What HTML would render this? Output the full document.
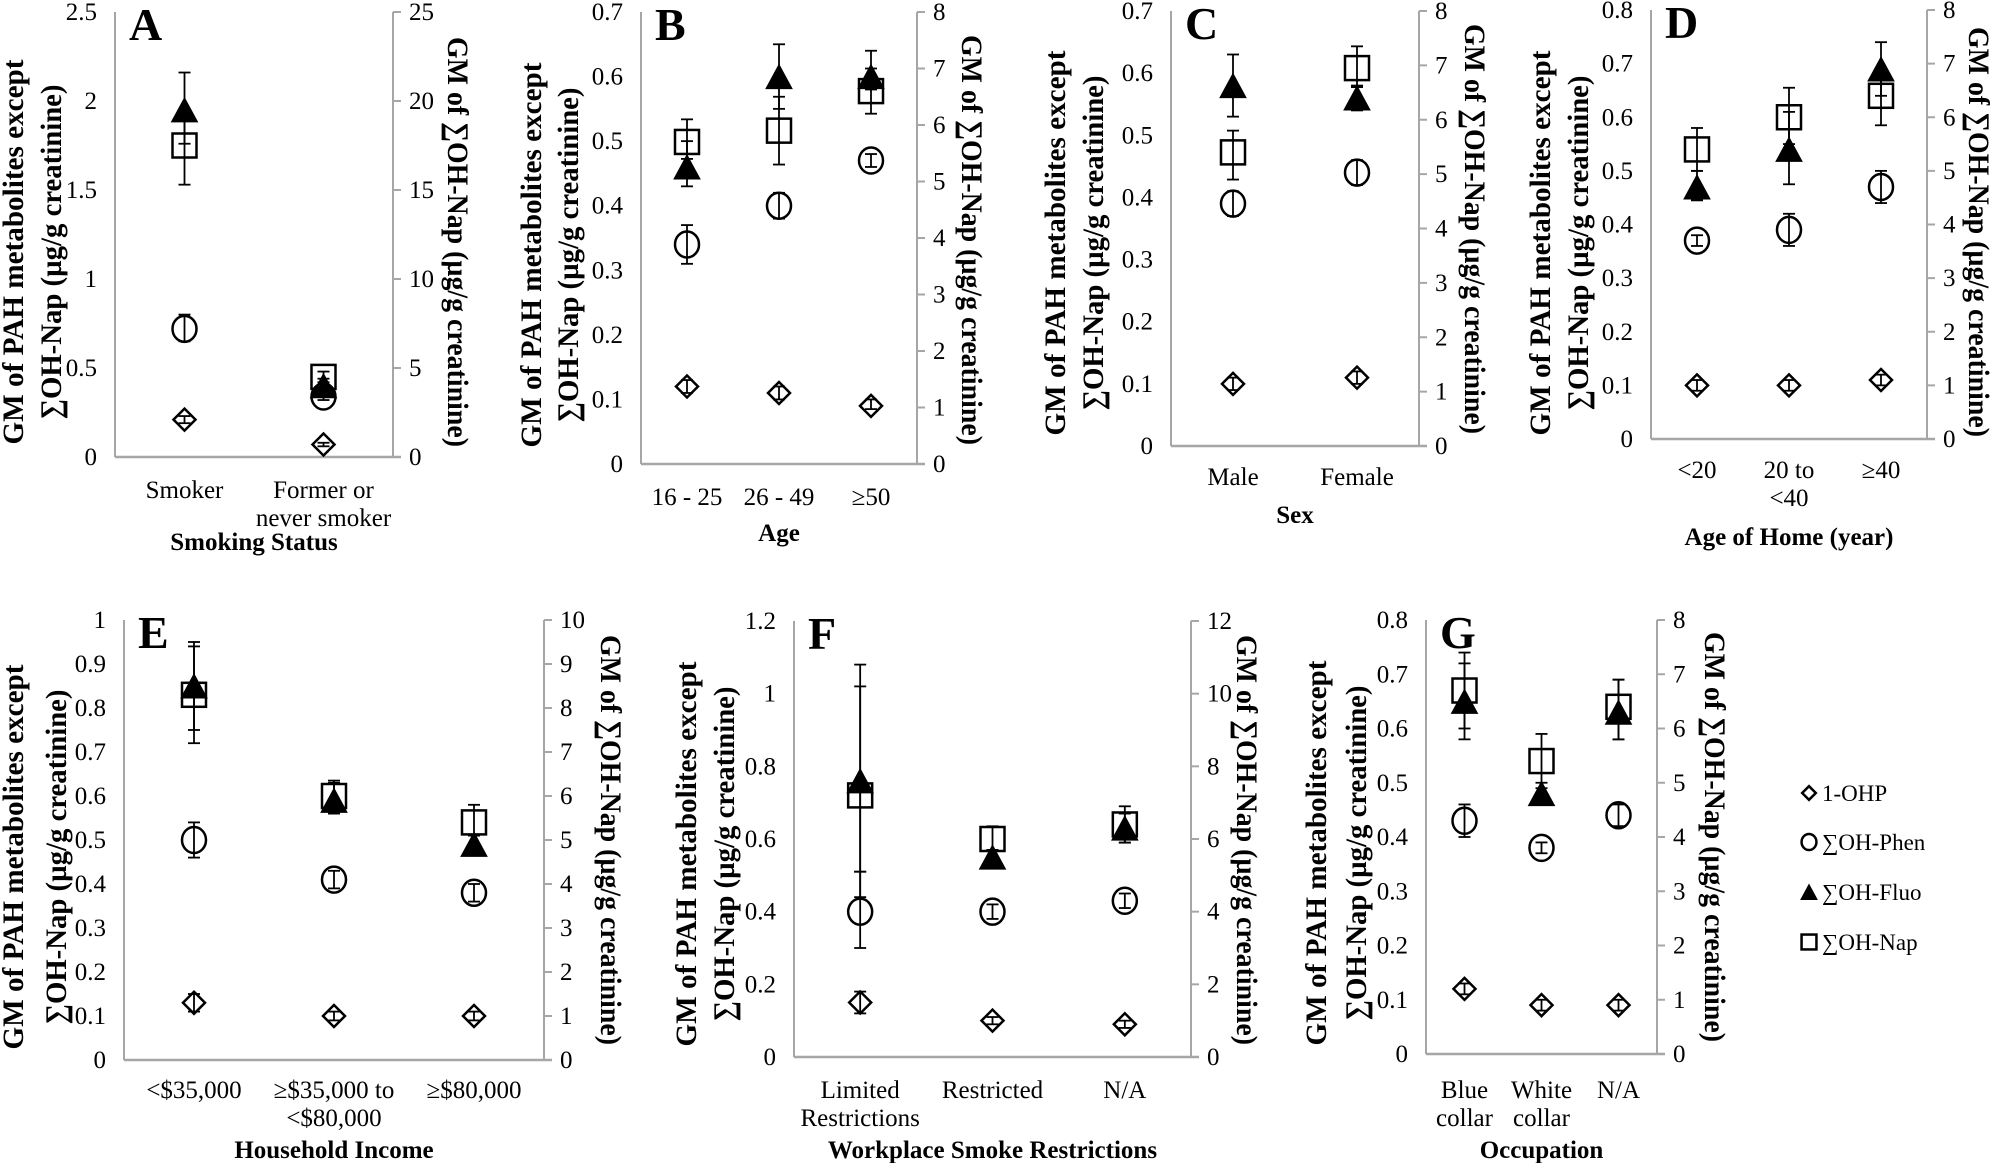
<!DOCTYPE html>
<html><head><meta charset="utf-8">
<style>
html,body{margin:0;padding:0;background:#fff;}
svg{display:block;}
text{font-family:"Liberation Serif","DejaVu Serif",serif;fill:#000;}
.tick{font-size:25px;}
.cat{font-size:25px;}
.xt{font-size:25px;font-weight:bold;}
.yt{font-size:30px;font-weight:bold;}
.let{font-size:46px;font-weight:bold;}
.leg{font-size:23px;}
</style></head>
<body>
<svg id="fig" width="1991" height="1163" viewBox="0 0 1991 1163" xmlns="http://www.w3.org/2000/svg"></svg>
<script>
// ---- Panel A: Smoking status ----
const catsA = ["Smoker", "Former or|never smoker"];
const ohpA = [0.21, 0.07];   const ohpErrA = [[0.19,0.23],[0.06,0.08]];
const phenA = [0.72, 0.34];  const phenErrA = [[0.65,0.80],[0.32,0.36]];
const fluoA = [1.95, 0.40];  const fluoErrA = [[1.76,2.16],[0.37,0.44]];
const napA = [17.5, 4.5];    const napErrA = [[15.3,19.5],[4.2,4.8]];
// ---- Panel B: Age ----
const catsB = ["16 - 25", "26 - 49", "≥50"];
const ohpB = [0.12, 0.11, 0.09];  const ohpErrB = [[0.11,0.13],[0.10,0.12],[0.085,0.10]];
const phenB = [0.34, 0.40, 0.47]; const phenErrB = [[0.31,0.37],[0.38,0.42],[0.46,0.48]];
const fluoB = [0.46, 0.60, 0.60]; const fluoErrB = [[0.43,0.50],[0.55,0.65],[0.58,0.64]];
const napB = [5.7, 5.9, 6.6];     const napErrB = [[5.4,6.1],[5.3,6.5],[6.2,7.0]];
// ---- Panel C: Sex ----
const catsC = ["Male", "Female"];
const ohpC = [0.10, 0.11];   const ohpErrC = [[0.09,0.11],[0.10,0.12]];
const phenC = [0.39, 0.44];  const phenErrC = [[0.37,0.41],[0.42,0.46]];
const fluoC = [0.58, 0.56];  const fluoErrC = [[0.53,0.63],[0.54,0.58]];
const napC = [5.4, 6.95];    const napErrC = [[4.9,5.8],[6.6,7.35]];
// ---- Panel D: Age of home ----
const catsD = ["<20", "20 to|<40", "≥40"];
const ohpD = [0.10, 0.10, 0.11];  const ohpErrD = [[0.09,0.11],[0.09,0.11],[0.10,0.12]];
const phenD = [0.37, 0.39, 0.47]; const phenErrD = [[0.36,0.38],[0.36,0.42],[0.44,0.50]];
const fluoD = [0.47, 0.54, 0.69]; const fluoErrD = [[0.445,0.50],[0.475,0.61],[0.64,0.74]];
const napD = [5.4, 6.0, 6.4];     const napErrD = [[5.0,5.8],[5.5,6.55],[5.85,6.8]];
// ---- Panel E: Household income ----
const catsE = ["<$35,000", "≥$35,000 to|<$80,000", "≥$80,000"];
const ohpE = [0.13, 0.10, 0.10];  const ohpErrE = [[0.11,0.15],[0.09,0.11],[0.09,0.11]];
const phenE = [0.50, 0.41, 0.38]; const phenErrE = [[0.46,0.54],[0.39,0.43],[0.36,0.40]];
const fluoE = [0.85, 0.59, 0.49]; const fluoErrE = [[0.75,0.95],[0.56,0.63],[0.47,0.51]];
const napE = [8.3, 6.0, 5.4];     const napErrE = [[7.2,9.4],[5.6,6.35],[5.1,5.8]];
// ---- Panel F: Workplace smoke restrictions ----
const catsF = ["Limited|Restrictions", "Restricted", "N/A"];
const ohpF = [0.15, 0.10, 0.09];  const ohpErrF = [[0.12,0.18],[0.09,0.11],[0.08,0.10]];
const phenF = [0.40, 0.40, 0.43]; const phenErrF = [[0.30,0.51],[0.38,0.42],[0.41,0.45]];
const fluoF = [0.76, 0.55, 0.63]; const fluoErrF = [[0.44,1.08],[0.53,0.57],[0.59,0.67]];
const napF = [7.2, 6.0, 6.4];     const napErrF = [[5.1,10.2],[5.7,6.35],[5.9,6.9]];
// ---- Panel G: Occupation ----
const catsG = ["Blue|collar", "White|collar", "N/A"];
const ohpG = [0.12, 0.09, 0.09];  const ohpErrG = [[0.11,0.13],[0.08,0.10],[0.08,0.10]];
const phenG = [0.43, 0.38, 0.44]; const phenErrG = [[0.40,0.46],[0.37,0.39],[0.42,0.46]];
const fluoG = [0.65, 0.48, 0.63]; const fluoErrG = [[0.58,0.72],[0.47,0.49],[0.58,0.69]];
const napG = [6.7, 5.4, 6.4];     const napErrG = [[6.0,7.4],[5.0,5.9],[5.8,6.9]];
// ---- Axis ranges ----
const leftMax = [2.5, 0.7, 0.7, 0.8, 1.0, 1.2, 0.8];
const leftStep = [0.5, 0.1, 0.1, 0.1, 0.1, 0.2, 0.1];
const rightMax = [25, 8, 8, 8, 10, 12, 8];
const rightStep = [5, 1, 1, 1, 1, 2, 1];
const xTitles = ["Smoking Status", "Age", "Sex", "Age of Home (year)", "Household Income", "Workplace Smoke Restrictions", "Occupation"];
const legendLabels = ["1-OHP", "∑OH-Phen", "∑OH-Fluo", "∑OH-Nap"];

const NS = "http://www.w3.org/2000/svg";
const svg = document.getElementById("fig");
function mk(tag, attrs, parent) {
  const e = document.createElementNS(NS, tag);
  for (const k in attrs) e.setAttribute(k, attrs[k]);
  (parent || svg).appendChild(e);
  return e;
}

const layout = [
  {L:115,R:393,T:12,Z:457,catY:490,ttlY:542,t1:13,t2:51,rt:458,tc:252,rc:242},
  {L:641,R:917,T:12,Z:464,catY:497,ttlY:533,t1:531,t2:568,rt:972,tc:255,rc:240},
  {L:1171,R:1419,T:11,Z:446,catY:477,ttlY:515,t1:1055,t2:1093,rt:1475,tc:243,rc:229},
  {L:1651,R:1927,T:10,Z:439,catY:470,ttlY:537,t1:1540,t2:1578,rt:1979,tc:243,rc:232},
  {L:124,R:544,T:620,Z:1060,catY:1090,ttlY:1150,t1:13,t2:56,rt:611,tc:857,rc:840},
  {L:794,R:1191,T:621,Z:1057,catY:1090,ttlY:1150,t1:686,t2:724,rt:1247,tc:854,rc:840},
  {L:1426,R:1657,T:620,Z:1054,catY:1090,ttlY:1150,t1:1316,t2:1356,rt:1715,tc:853,rc:837}
];
const panels = [
  {cats:catsA,ohp:ohpA,ohpE:ohpErrA,phen:phenA,phenE:phenErrA,fluo:fluoA,fluoE:fluoErrA,nap:napA,napE:napErrA},
  {cats:catsB,ohp:ohpB,ohpE:ohpErrB,phen:phenB,phenE:phenErrB,fluo:fluoB,fluoE:fluoErrB,nap:napB,napE:napErrB},
  {cats:catsC,ohp:ohpC,ohpE:ohpErrC,phen:phenC,phenE:phenErrC,fluo:fluoC,fluoE:fluoErrC,nap:napC,napE:napErrC},
  {cats:catsD,ohp:ohpD,ohpE:ohpErrD,phen:phenD,phenE:phenErrD,fluo:fluoD,fluoE:fluoErrD,nap:napD,napE:napErrD},
  {cats:catsE,ohp:ohpE,ohpE:ohpErrE,phen:phenE,phenE:phenErrE,fluo:fluoE,fluoE:fluoErrE,nap:napE,napE:napErrE},
  {cats:catsF,ohp:ohpF,ohpE:ohpErrF,phen:phenF,phenE:phenErrF,fluo:fluoF,fluoE:fluoErrF,nap:napF,napE:napErrF},
  {cats:catsG,ohp:ohpG,ohpE:ohpErrG,phen:phenG,phenE:phenErrG,fluo:fluoG,fluoE:fluoErrG,nap:napG,napE:napErrG}
];
const letters = ["A","B","C","D","E","F","G"];

function marker(g, type, cx, cy, s) {
  let e;
  s = s || 1;
  if (type === "diamond") {
    const h = 11*s;
    e = mk("polygon", {points:`${cx},${cy-h} ${cx+h},${cy} ${cx},${cy+h} ${cx-h},${cy}`, fill:"none", stroke:"#000", "stroke-width":2.5}, g);
  } else if (type === "circle") {
    e = mk("ellipse", {cx:cx, cy:cy, rx:12*s, ry:13*s, fill:"none", stroke:"#000", "stroke-width":2.5}, g);
  } else if (type === "triangle") {
    const w = 13*s, h = 12*s;
    e = mk("polygon", {points:`${cx},${cy-h} ${cx+w},${cy+h} ${cx-w},${cy+h}`, fill:"#000", stroke:"#000", "stroke-width":1}, g);
  } else {
    const h = 12*s;
    e = mk("rect", {x:cx-h, y:cy-h, width:2*h, height:2*h, fill:"none", stroke:"#000", "stroke-width":2.5}, g);
  }
  return e;
}
function errbar(g, x, y1, y2) {
  mk("line", {x1:x, y1:y1, x2:x, y2:y2, stroke:"#000", "stroke-width":1.8}, g);
  mk("line", {x1:x-6, y1:y1, x2:x+6, y2:y1, stroke:"#000", "stroke-width":1.8}, g);
  mk("line", {x1:x-6, y1:y2, x2:x+6, y2:y2, stroke:"#000", "stroke-width":1.8}, g);
}
function fmt(v) { return String(Math.round(v*10)/10); }

panels.forEach((p, i) => {
  const lo = layout[i];
  const g = mk("g", {});
  
  
  const yL = v => lo.Z - (v / leftMax[i]) * (lo.Z - lo.T);
  const yR = v => lo.Z - (v / rightMax[i]) * (lo.Z - lo.T);
  const n = p.cats.length;
  const xC = k => lo.L + (lo.R - lo.L) * (k + 0.5) / n;

  const ax = mk("g", {}, g);
  
  
  mk("line", {x1:lo.L, y1:lo.T, x2:lo.L, y2:lo.Z, stroke:"#a6a6a6", "stroke-width":2}, ax);
  mk("line", {x1:lo.R, y1:lo.T, x2:lo.R, y2:lo.Z, stroke:"#a6a6a6", "stroke-width":2}, ax);
  mk("line", {x1:lo.L, y1:lo.Z, x2:lo.R+8, y2:lo.Z, stroke:"#a6a6a6", "stroke-width":2.5}, ax);

  const nl = Math.round(leftMax[i] / leftStep[i]);
  for (let k = 0; k <= nl; k++) {
    const v = k * leftStep[i];
    const t = mk("text", {x:lo.L-18, y:yL(v)+8, "text-anchor":"end", class:"tick"}, g);
    
    
    t.textContent = fmt(v);
  }
  const nr = Math.round(rightMax[i] / rightStep[i]);
  for (let k = 0; k <= nr; k++) {
    const v = k * rightStep[i];
    mk("line", {x1:lo.R, y1:yR(v), x2:lo.R+8, y2:yR(v), stroke:"#a6a6a6", "stroke-width":2}, ax);
    const t = mk("text", {x:lo.R+16, y:yR(v)+8, "text-anchor":"start", class:"tick"}, g);
    
    
    t.textContent = fmt(v);
  }
  p.cats.forEach((c, k) => {
    c.split("|").forEach((line, j) => {
      const t = mk("text", {x:xC(k), y:lo.catY + 8 + j*28, "text-anchor":"middle", class:"cat"}, g);
      
      
      t.textContent = line;
    });
  });
  const xt = mk("text", {x:(lo.L+lo.R)/2, y:lo.ttlY+8, "text-anchor":"middle", class:"xt"}, g);
  
  
  xt.textContent = xTitles[i];

  const t1 = mk("text", {x:0, y:0, "text-anchor":"middle", class:"yt", textLength:385, lengthAdjust:"spacingAndGlyphs", transform:`translate(${lo.t1+10},${lo.tc}) rotate(-90)`}, g);
  
  
  t1.textContent = "GM of PAH metabolites except";
  const t2 = mk("text", {x:0, y:0, "text-anchor":"middle", class:"yt", textLength:335, lengthAdjust:"spacingAndGlyphs", transform:`translate(${lo.t2+10},${lo.tc}) rotate(-90)`}, g);
  
  
  t2.textContent = "∑OH-Nap (µg/g creatinine)";
  const rt = mk("text", {x:0, y:0, "text-anchor":"middle", class:"yt", textLength:410, lengthAdjust:"spacingAndGlyphs", transform:`translate(${lo.rt-10},${lo.rc}) rotate(90)`}, g);
  
  
  rt.textContent = "GM of ∑OH-Nap  (µg/g creatinine)";
  const lt = mk("text", {x:lo.L+14, y:lo.T+28, class:"let"}, g);
  
  
  lt.textContent = letters[i];

  const series = [
    {v:p.ohp, e:p.ohpE, type:"diamond", y:yL, name:"ohp"},
    {v:p.phen, e:p.phenE, type:"circle", y:yL, name:"phen"},
    {v:p.nap, e:p.napE, type:"square", y:yR, name:"nap"},
    {v:p.fluo, e:p.fluoE, type:"triangle", y:yL, name:"fluo"}
  ];
  series.forEach(s => {
    const sg = mk("g", {}, g);
    
    
    s.v.forEach((v, k) => {
      errbar(sg, xC(k), s.y(s.e[k][0]), s.y(s.e[k][1]));
      const m = marker(sg, s.type, xC(k), s.y(v));
      
      
    });
  });
});

const lg = mk("g", {});


const legTypes = ["diamond", "circle", "triangle", "square"];
const legY = [793, 842, 892, 942];
legendLabels.forEach((lab, k) => {
  const m = marker(lg, legTypes[k], 1809, legY[k], 0.62);
  
  
  const t = mk("text", {x:1822, y:legY[k]+8, class:"leg"}, lg);
  
  
  t.textContent = lab;
});
</script>
</body></html>
